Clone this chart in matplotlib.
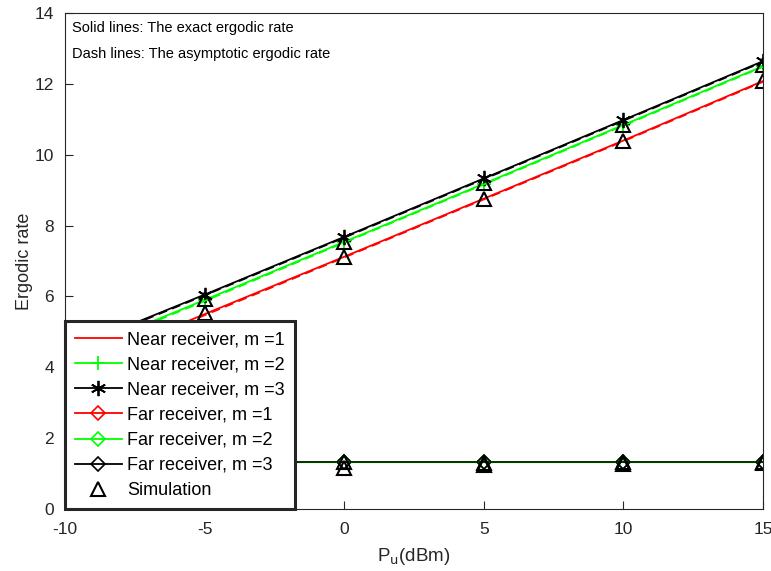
import matplotlib
matplotlib.use("Agg")
import matplotlib.pyplot as plt
from matplotlib.lines import Line2D

plt.rcParams['font.family'] = ['Liberation Sans', 'DejaVu Sans']
plt.rcParams['axes.unicode_minus'] = False

p_dbm = [-10, -5, 0, 5, 10, 15]

near_m1 = [3.85, 5.50, 7.12, 8.76, 10.40, 12.08]
near_m2 = [4.28, 5.90, 7.54, 9.18, 10.84, 12.50]
near_m3 = [4.45, 6.05, 7.68, 9.33, 10.98, 12.64]
near_asym_m1 = [3.82, 5.47, 7.10, 8.74, 10.38, 12.06]
near_asym_m2 = [4.25, 5.87, 7.52, 9.16, 10.82, 12.48]
near_asym_m3 = [4.42, 6.03, 7.66, 9.31, 10.96, 12.62]

far_m1 = [1.32, 1.32, 1.32, 1.32, 1.32, 1.32]
far_m2 = [1.33, 1.32, 1.32, 1.32, 1.32, 1.32]
far_m3 = [1.32, 1.32, 1.32, 1.32, 1.32, 1.32]
far_diamond = [1.36, 1.32, 1.33, 1.34, 1.33, 1.32]

sim_near_m1 = [3.85, 5.52, 7.12, 8.76, 10.38, 12.08]
sim_near_m2 = [4.28, 5.92, 7.55, 9.20, 10.85, 12.52]
sim_far_a = [0.75, 1.32, 1.32, 1.30, 1.32, 1.32]
sim_far_b = [0.72, 1.30, 1.16, 1.25, 1.28, 1.30]

xticks = [-10, -5, 0, 5, 10, 15]
yticks = [0, 2, 4, 6, 8, 10, 12, 14]

fig = plt.figure(figsize=(7.71, 5.71), dpi=100)
ax = fig.add_axes([65/771, 62/571, 698/771, 496/571])

lw = 1.3
ast = (6, 2, 0)
# far receivers
ax.plot(p_dbm, far_m1, color='red', lw=lw)
ax.plot(p_dbm, far_m2, color='#00ff00', lw=lw)
ax.plot(p_dbm, far_m3, color='#0a200a', lw=lw)
ax.plot(p_dbm, far_diamond, ls='none', marker='D', ms=7, mfc='none', mec='#00ee00', mew=1.2)
ax.plot(p_dbm, far_diamond, ls='none', marker='D', ms=7, mfc='none', mec='black', mew=1.2)

# near receivers exact
ax.plot(p_dbm, near_m1, color='red', lw=lw)
ax.plot(p_dbm, near_m2, color='#00ff00', lw=lw, marker='+', ms=10, mew=1.3)
ax.plot(p_dbm, near_m3, color='black', lw=lw, marker=ast, ms=11, mew=1.3)
# asymptotic
ax.plot(p_dbm, near_asym_m1, color='red', lw=lw, ls=(0, (5, 3)))
ax.plot(p_dbm, near_asym_m2, color='#00ff00', lw=lw, ls=(0, (5, 3)))
ax.plot(p_dbm, near_asym_m3, color='black', lw=lw, ls=(0, (5, 3)))

# simulation
tri = dict(ls='none', marker='^', ms=10, mfc='none', mec='black', mew=1.5)
ax.plot(p_dbm, sim_near_m1, **tri)
ax.plot(p_dbm, sim_near_m2, **tri)
ax.plot(p_dbm, sim_far_a, **tri)
ax.plot(p_dbm, sim_far_b, **tri)

ax.set_xlim(-10, 15)
ax.set_ylim(0, 14)
ax.set_xticks(xticks)
ax.set_yticks(yticks)
ax.tick_params(direction='in', labelsize=12.5, length=6, colors='#262626')
ax.tick_params(axis='x', pad=9)
ax.tick_params(axis='y', pad=8)
for s in ax.spines.values():
    s.set_color('#262626')
    s.set_linewidth(0.8)

ax.set_xlabel(r'P$_{\rm u}$(dBm)', fontsize=13.5, color='#262626', labelpad=7)
ax.set_ylabel('Ergodic rate', fontsize=13, color='#262626', labelpad=1)

ax.text(0.01, 0.970, 'Solid lines: The exact ergodic rate', transform=ax.transAxes,
        fontsize=10.5, va='center', ha='left')
ax.text(0.01, 0.917, 'Dash lines: The asymptotic ergodic rate', transform=ax.transAxes,
        fontsize=10.5, va='center', ha='left')

handles = [
    Line2D([], [], color='red', lw=lw),
    Line2D([], [], color='#00ff00', lw=lw, marker='+', ms=10, mew=1.3),
    Line2D([], [], color='black', lw=lw, marker=ast, ms=11, mew=1.3),
    Line2D([], [], color='red', lw=lw, marker='D', ms=7, mfc='none', mew=1.2),
    Line2D([], [], color='#00ff00', lw=lw, marker='D', ms=7, mfc='none', mew=1.2),
    Line2D([], [], color='black', lw=lw, marker='D', ms=7, mfc='none', mew=1.2),
    Line2D([], [], ls='none', marker='^', ms=10, mfc='none', mec='black', mew=1.5),
]
labels = ['Near receiver, m =1', 'Near receiver, m =2', 'Near receiver, m =3',
          'Far receiver, m =1', 'Far receiver, m =2', 'Far receiver, m =3', 'Simulation']
leg = ax.legend(handles, labels, loc='lower left', bbox_to_anchor=(0, 0), fontsize=13,
                frameon=True, fancybox=False, edgecolor='#262626', framealpha=1,
                borderaxespad=0, handlelength=2.6, labelspacing=0.45, borderpad=0.55,
                handletextpad=0.3)
leg.get_frame().set_linewidth(2.2)

fig.savefig('out.png', dpi=100)
